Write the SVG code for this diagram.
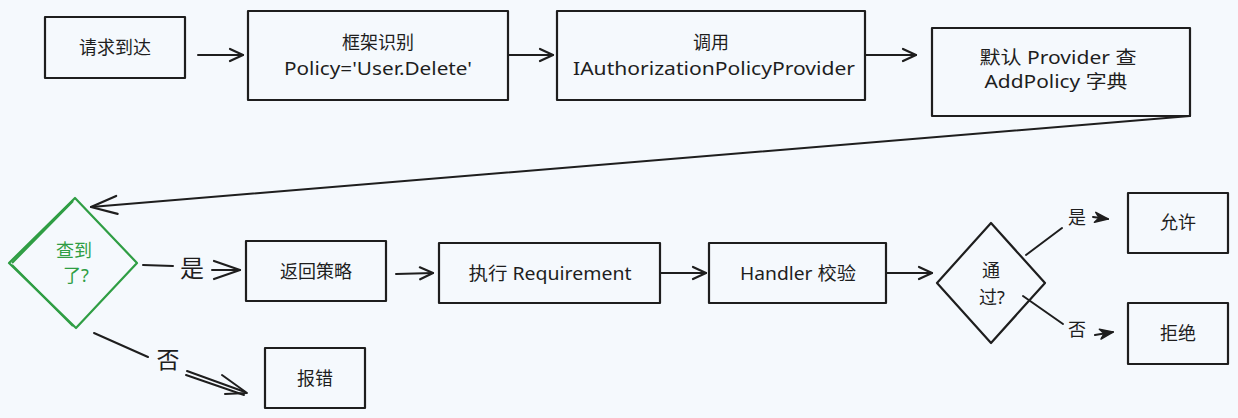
<svg xmlns="http://www.w3.org/2000/svg" width="1238" height="418" viewBox="0 0 1238 418">
<defs>
<style>
.bg{fill:#f5f9fd}
.box{fill:none;stroke:#1e1e1e;stroke-width:2.2;stroke-linejoin:round}
.t{font-family:"Noto Sans","Noto Sans CJK SC",sans-serif;font-size:18px;fill:#1e1e1e;text-anchor:middle;dominant-baseline:central}
.g{fill:#2f9e44}
.gs{stroke:#2f9e44}
.lbl{font-family:"Noto Sans CJK SC","Noto Sans",sans-serif;fill:#1e1e1e;text-anchor:middle;dominant-baseline:central}
.e{stroke:#1e1e1e;stroke-width:2;fill:none;stroke-linecap:round;stroke-linejoin:round}
</style>
<marker id="ah" markerUnits="userSpaceOnUse" viewBox="-16 -8 18 16" refX="0" refY="0" markerWidth="18" markerHeight="16" orient="auto" overflow="visible">
<path d="M-13,-6 L0,0 L-13,6" fill="none" stroke="#1e1e1e" stroke-width="2.2" stroke-linecap="round" stroke-linejoin="round"/>
</marker>
<marker id="ahL" markerUnits="userSpaceOnUse" viewBox="-28 -12 30 24" refX="0" refY="0" markerWidth="30" markerHeight="24" orient="auto" overflow="visible">
<path d="M-26,-9 L0,0 L-26,9" fill="none" stroke="#1e1e1e" stroke-width="2.2" stroke-linecap="round" stroke-linejoin="round"/>
</marker>
<marker id="ahS" markerUnits="userSpaceOnUse" viewBox="-16 -8 18 16" refX="0" refY="0" markerWidth="18" markerHeight="16" orient="auto" overflow="visible">
<path d="M-13,-5 L0,0 L-13,5 L-9,0 Z" fill="#1e1e1e" stroke="#1e1e1e" stroke-width="1.5" stroke-linejoin="round"/>
</marker>
</defs>
<rect class="bg" x="0" y="0" width="1238" height="418"/>

<g id="connectors">
<line class="e" x1="198" y1="55" x2="243" y2="55" marker-end="url(#ah)"/>
<line class="e" x1="509" y1="55" x2="553" y2="55" marker-end="url(#ah)"/>
<line class="e" x1="866" y1="55" x2="916" y2="55" marker-end="url(#ah)"/>
<line class="e" x1="1190" y1="116" x2="91" y2="207" stroke-width="2.4" marker-end="url(#ahL)"/>
<line class="e" x1="143" y1="265" x2="173" y2="266"/>
<text class="lbl" x="192" y="266" font-size="24">是</text>
<line class="e" x1="212" y1="270" x2="240" y2="270" marker-end="url(#ahL)"/>
<line class="e" x1="94" y1="333" x2="148" y2="357" stroke-width="2.6"/>
<text class="lbl" x="168" y="358" font-size="23">否</text>
<path class="e" d="M187,371 L245,392 M186,375 L244,395" stroke-width="1.8"/>
<path class="e" d="M222,375 L247,393 L225,394" stroke-width="2.2"/>
<line class="e" x1="396" y1="274" x2="433" y2="273" marker-end="url(#ah)"/>
<line class="e" x1="660" y1="273" x2="706" y2="273" marker-end="url(#ah)"/>
<line class="e" x1="886" y1="273" x2="932" y2="273" marker-end="url(#ah)"/>
<line class="e" x1="1026" y1="255" x2="1062" y2="228" stroke-width="3.2"/>
<text class="lbl" x="1077" y="216" font-size="18">是</text>
<line class="e" x1="1093" y1="217" x2="1108" y2="219" marker-end="url(#ahS)"/>
<line class="e" x1="1023" y1="296" x2="1063" y2="324" stroke-width="2.6"/>
<text class="lbl" x="1077" y="328" font-size="18">否</text>
<line class="e" x1="1095" y1="335" x2="1113" y2="332" stroke-width="2.6" marker-end="url(#ahS)"/>
</g>

<g id="n-request">
<rect class="box" x="45" y="17" width="140" height="61"/>
<text class="t" x="115" y="47" font-size="19">请求到达</text>
</g>
<g id="n-framework">
<rect class="box" x="248" y="11" width="260" height="89"/>
<text class="t" x="378" y="42">框架识别</text>
<text class="t" x="378" y="68" textLength="188" lengthAdjust="spacingAndGlyphs">Policy='User.Delete'</text>
</g>
<g id="n-provider">
<rect class="box" x="557" y="11" width="308" height="89"/>
<text class="t" x="711" y="42">调用</text>
<text class="t" x="714" y="68" textLength="282" lengthAdjust="spacingAndGlyphs">IAuthorizationPolicyProvider</text>
</g>
<g id="n-default">
<rect class="box" x="932" y="28" width="258" height="88"/>
<text class="t" x="1058" y="57" textLength="157" lengthAdjust="spacingAndGlyphs">默认 Provider 查</text>
<text class="t" x="1056" y="81" textLength="143" lengthAdjust="spacingAndGlyphs">AddPolicy 字典</text>
</g>
<g id="n-found">
<path class="box gs" d="M75,198 L137,263 L76,328 L9,263 Z"/>
<path class="box gs" d="M73,201 L12,263 M12,265 L73,326" stroke-width="1.2"/>
<text class="t g" x="74" y="250">查到</text>
<text class="t g" x="76" y="275">了?</text>
</g>
<g id="n-return">
<rect class="box" x="246" y="241" width="140" height="60"/>
<text class="t" x="316" y="271" font-size="19">返回策略</text>
</g>
<g id="n-error">
<rect class="box" x="265" y="348" width="100" height="60"/>
<text class="t" x="315" y="378" font-size="19">报错</text>
</g>
<g id="n-requirement">
<rect class="box" x="439" y="243" width="221" height="60"/>
<text class="t" x="550" y="273" textLength="163" lengthAdjust="spacingAndGlyphs">执行 Requirement</text>
</g>
<g id="n-handler">
<rect class="box" x="709" y="243" width="177" height="60"/>
<text class="t" x="798" y="273" textLength="116" lengthAdjust="spacingAndGlyphs">Handler 校验</text>
</g>
<g id="n-pass">
<path class="box" d="M991,223 L1045,283 L991,343 L937,283 Z"/>
<text class="t" x="991" y="270" font-size="17">通</text>
<text class="t" x="992" y="297" font-size="17">过?</text>
</g>
<g id="n-allow">
<rect class="box" x="1128" y="193" width="100" height="60"/>
<text class="t" x="1178" y="222" font-size="19">允许</text>
</g>
<g id="n-deny">
<rect class="box" x="1128" y="303" width="100" height="61"/>
<text class="t" x="1178" y="333" font-size="19">拒绝</text>
</g>
</svg>
